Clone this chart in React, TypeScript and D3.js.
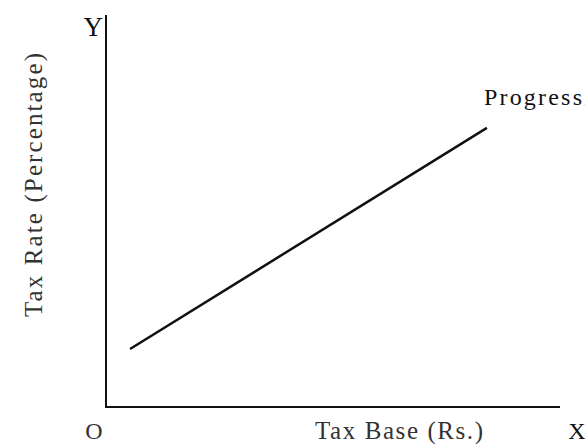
import React from "react";
import * as d3 from "d3";

const lineX = [5.3, 83.9];
const lineY = [14.8, 71.2];
const curveLabel = "Progressive";
const xTitle = "Tax Base (Rs.)";
const yTitle = "Tax Rate (Percentage)";
const axisNames = ["O", "X", "Y"];

export default function App() {
  const W = 585, H = 444;
  const x = d3.scaleLinear().domain([0, 100]).range([106, 560]);
  const y = d3.scaleLinear().domain([0, 100]).range([407, 15]);
  const pts: [number, number][] = lineX.map((v, i) => [v, lineY[i]]);
  const line = d3.line<[number, number]>().x(d => x(d[0])).y(d => y(d[1]));
  const font = "'Liberation Serif', 'Times New Roman', serif";
  return (
    <svg width={W} height={H} style={{ position: "absolute", left: 0, top: 0, background: "#fff" }} fontFamily={font}>
      <rect width={W} height={H} fill="#fff" />
      <line x1={x(0)} y1={y(0) + 1} x2={x(0)} y2={y(100)} stroke="#111" strokeWidth={2} />
      <line x1={x(0) - 1} y1={y(0)} x2={x(100)} y2={y(0)} stroke="#111" strokeWidth={2} />
      <path d={line(pts) ?? ""} stroke="#111" strokeWidth={2.5} fill="none" />
      <text x={x(lineX[1]) - 3} y={y(lineY[1]) - 23} fontSize={24} fill="#111"
        textLength={134} lengthAdjust="spacing">{curveLabel}</text>
      <text x={103} y={36} fontSize={27} textAnchor="end" fill="#111">{axisNames[2]}</text>
      <text x={94} y={439} fontSize={24} textAnchor="middle" fill="#333">{axisNames[0]}</text>
      <text x={577} y={439} fontSize={24} textAnchor="middle" fill="#111">{axisNames[1]}</text>
      <text x={315} y={439} fontSize={25} fill="#333" textLength={168} lengthAdjust="spacing">{xTitle}</text>
      <text transform={`translate(42, 317) rotate(-90)`} fontSize={25} fill="#333"
        textLength={264} lengthAdjust="spacing">{yTitle}</text>
    </svg>
  );
}
